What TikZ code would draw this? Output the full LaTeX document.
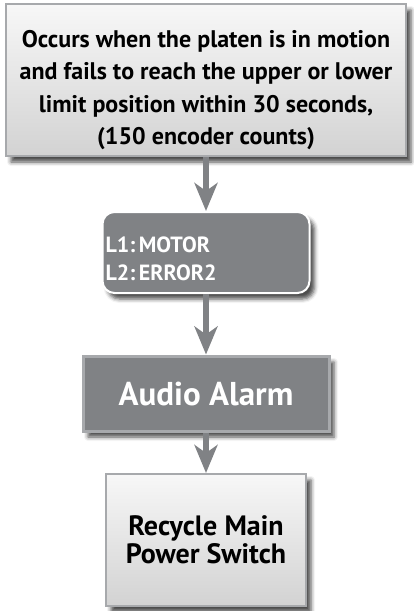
\documentclass[tikz,border=0pt]{standalone}
\usepackage{fontspec}
\setmainfont{PT Sans}
\usetikzlibrary{arrows.meta,shadows.blur}
\definecolor{darkfill}{HTML}{808285}
\definecolor{boxline}{HTML}{A7A9AC}
\begin{document}
\begin{tikzpicture}[x=1pt,y=-1pt,
  softshadow/.style={blur shadow={shadow xshift=5pt,shadow yshift=-6pt,shadow blur radius=4pt,shadow opacity=70}},
  lightbox/.style={draw=boxline,line width=2pt,top color=gray!6,middle color=white,bottom color=gray!35,softshadow},
  darkbox/.style={fill=darkfill,line width=3pt,softshadow,text=white},
  arr/.style={draw=darkfill,line width=6pt,-{Stealth[length=28pt,width=23pt,inset=8pt]}}]
\useasboundingbox (0,0) rectangle (414,611);
\node[lightbox,minimum width=400pt,minimum height=152pt] (cause) at (206,80) {};
\node[align=center,font=\fontsize{24}{32.5}\selectfont\bfseries] (causetext) at (206,90)
  {Occurs when the platen is in motion\\
   and fails to reach the upper or lower\\
   limit position within 30 seconds,\\
   (150 encoder counts)};
\node[darkbox,draw=white,line width=2pt,rounded corners=12pt,minimum width=207pt,minimum height=81pt] (lcd) at (206,252.5) {};
\node[anchor=west,text=white,align=left,font=\fontsize{22}{28}\selectfont\bfseries] (lcdtext) at (102,259)
  {L1:\,MOTOR\\ L2:\,ERROR2};
\node[darkbox,draw=boxline,minimum width=246pt,minimum height=75pt,
  font=\fontsize{33}{34}\selectfont\bfseries] (alarm) at (206,393.5) {Audio Alarm};
\node[lightbox,minimum width=200pt,minimum height=132pt,align=center,
  font=\fontsize{28}{28}\selectfont\bfseries] (switch) at (206,540)
  {Recycle Main\\ Power Switch};
\draw[arr] (cause) -- (lcd);
\draw[arr] (lcd) -- (alarm);
\draw[arr] (alarm) -- (switch);
\end{tikzpicture}
\end{document}
